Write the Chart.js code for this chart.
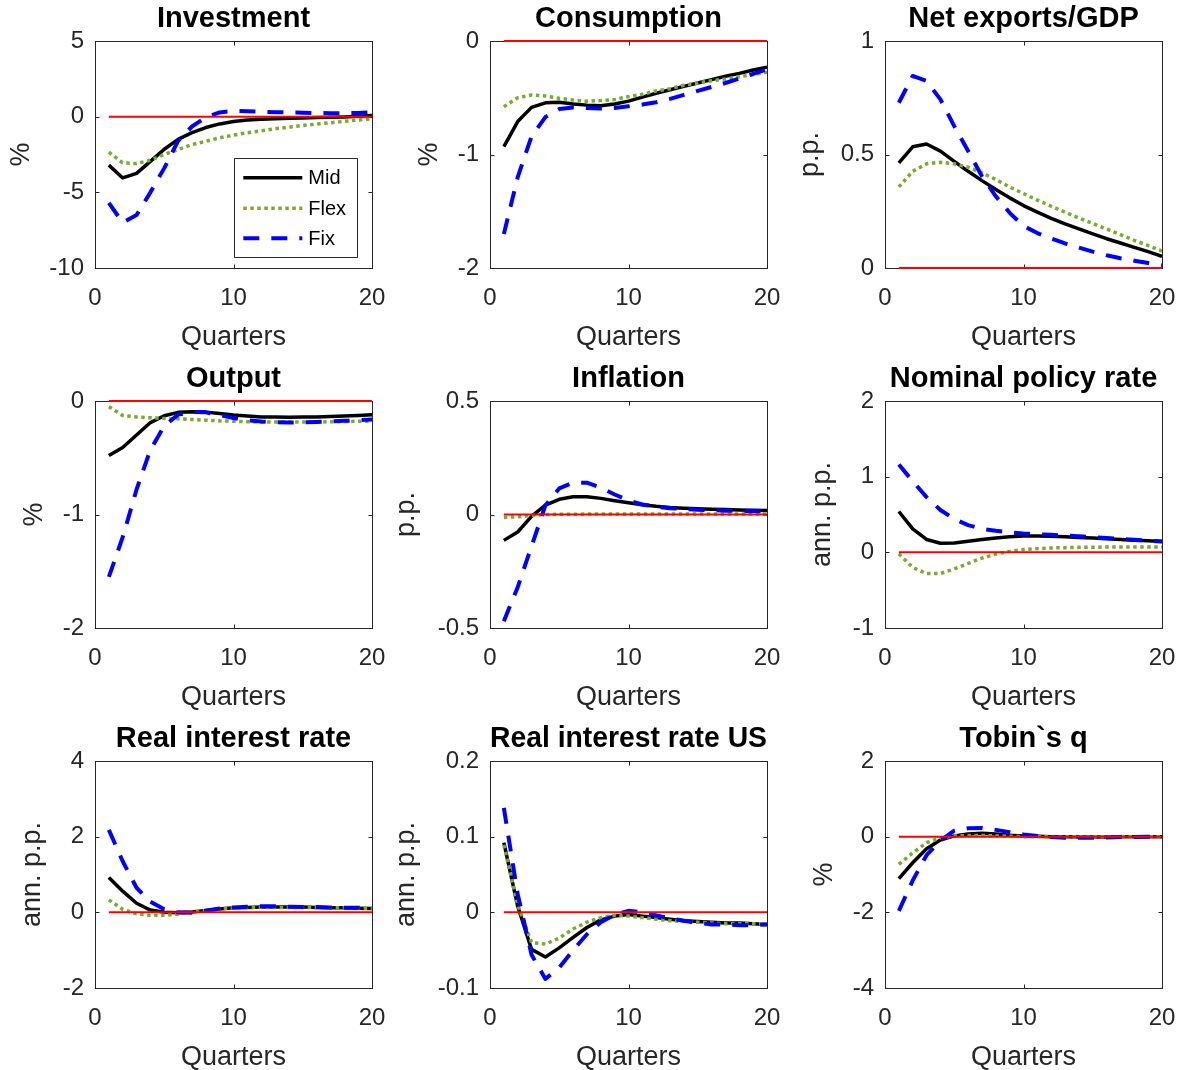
<!DOCTYPE html>
<html>
<head>
<meta charset="utf-8">
<title>Impulse responses</title>
<script src="https://cdn.jsdelivr.net/npm/chart.js@4.4.0/dist/chart.umd.min.js"></script>
<style>
  html, body { margin: 0; padding: 0; background: #fff; overflow: hidden; }
  #wrap { position: relative; width: 1180px; height: 1070px; overflow: hidden; }
  #wrap canvas { position: absolute; }
</style>
</head>
<body>
<div id="wrap"></div>
<script>
// quarters after the shock
const quarters = [1, 2, 3, 4, 5, 6, 7, 8, 9, 10, 11, 12, 13, 14, 15, 16, 17, 18, 19, 20];
const xTicks = [0, 10, 20];
const seriesNames = ['Mid', 'Flex', 'Fix'];

// Investment (%)
const investMid  = [-3.2, -4.05, -3.75, -2.95, -2.15, -1.5, -1.05, -0.72, -0.48, -0.32, -0.22, -0.17, -0.13, -0.1, -0.08, -0.06, -0.04, -0.02, 0.02, 0.08];
const investFlex = [-2.35, -3.05, -3.1, -2.88, -2.5, -2.17, -1.85, -1.62, -1.4, -1.22, -1.06, -0.93, -0.8, -0.69, -0.58, -0.49, -0.4, -0.31, -0.22, -0.13];
const investFix  = [-5.7, -7.0, -6.5, -5.0, -3.4, -1.6, -0.65, -0.05, 0.28, 0.38, 0.36, 0.33, 0.3, 0.28, 0.26, 0.24, 0.23, 0.23, 0.25, 0.28];

// Consumption (%)
const consMid  = [-0.93, -0.71, -0.585, -0.545, -0.54, -0.555, -0.565, -0.57, -0.555, -0.53, -0.495, -0.46, -0.43, -0.4, -0.37, -0.34, -0.31, -0.285, -0.255, -0.23];
const consFlex = [-0.58, -0.5, -0.476, -0.485, -0.505, -0.52, -0.53, -0.525, -0.515, -0.49, -0.47, -0.44, -0.42, -0.39, -0.37, -0.35, -0.335, -0.315, -0.295, -0.275];
const consFix  = [-1.7, -1.2, -0.84, -0.67, -0.6, -0.585, -0.59, -0.595, -0.59, -0.575, -0.56, -0.54, -0.51, -0.475, -0.44, -0.405, -0.37, -0.33, -0.29, -0.25];

// Net exports/GDP (p.p.)
const nxMid  = [0.463, 0.534, 0.546, 0.515, 0.47, 0.426, 0.385, 0.346, 0.309, 0.275, 0.246, 0.219, 0.194, 0.172, 0.15, 0.129, 0.11, 0.091, 0.072, 0.051];
const nxFlex = [0.357, 0.426, 0.459, 0.466, 0.459, 0.444, 0.419, 0.39, 0.357, 0.328, 0.299, 0.272, 0.246, 0.22, 0.196, 0.172, 0.147, 0.122, 0.099, 0.074];
const nxFix  = [0.728, 0.846, 0.824, 0.743, 0.625, 0.515, 0.404, 0.316, 0.243, 0.185, 0.154, 0.13, 0.108, 0.09, 0.072, 0.056, 0.043, 0.032, 0.022, 0.012];

// Output (%)
const outMid  = [-0.48, -0.41, -0.3, -0.19, -0.13, -0.1, -0.095, -0.098, -0.11, -0.124, -0.133, -0.14, -0.142, -0.143, -0.142, -0.14, -0.136, -0.132, -0.127, -0.121];
const outFlex = [-0.05, -0.127, -0.14, -0.148, -0.154, -0.157, -0.163, -0.169, -0.175, -0.178, -0.182, -0.185, -0.186, -0.186, -0.186, -0.185, -0.183, -0.181, -0.179, -0.177];
const outFix  = [-1.55, -1.2, -0.78, -0.43, -0.22, -0.12, -0.095, -0.1, -0.124, -0.15, -0.17, -0.18, -0.187, -0.19, -0.188, -0.185, -0.18, -0.175, -0.17, -0.163];

// Inflation (p.p.)
const inflMid  = [-0.114, -0.077, -0.008, 0.041, 0.067, 0.078, 0.078, 0.071, 0.061, 0.052, 0.043, 0.036, 0.031, 0.028, 0.025, 0.023, 0.022, 0.02, 0.019, 0.018];
const inflFlex = [-0.013, -0.01, -0.004, 0.0, 0.001, 0.001, 0.002, 0.002, 0.002, 0.002, 0.002, 0.002, 0.002, 0.002, 0.002, 0.002, 0.002, 0.002, 0.002, 0.002];
const inflFix  = [-0.47, -0.32, -0.14, 0.04, 0.115, 0.14, 0.14, 0.118, 0.088, 0.062, 0.044, 0.034, 0.028, 0.024, 0.021, 0.019, 0.017, 0.016, 0.015, 0.014];

// Nominal policy rate (ann. p.p.)
const polMid  = [0.54, 0.31, 0.17, 0.12, 0.124, 0.147, 0.17, 0.19, 0.205, 0.215, 0.217, 0.213, 0.205, 0.197, 0.188, 0.179, 0.17, 0.161, 0.152, 0.143];
const polFlex = [-0.02, -0.2, -0.28, -0.28, -0.22, -0.147, -0.076, -0.022, 0.013, 0.036, 0.049, 0.058, 0.062, 0.066, 0.068, 0.07, 0.07, 0.07, 0.07, 0.07];
const polFix  = [1.16, 0.94, 0.73, 0.56, 0.44, 0.36, 0.31, 0.285, 0.265, 0.25, 0.24, 0.232, 0.222, 0.212, 0.2, 0.19, 0.179, 0.167, 0.155, 0.143];

// Real interest rate (ann. p.p.)
const rMid  = [0.92, 0.56, 0.24, 0.06, 0.0, -0.01, 0.01, 0.05, 0.09, 0.12, 0.13, 0.14, 0.14, 0.14, 0.14, 0.13, 0.12, 0.12, 0.11, 0.1];
const rFlex = [0.33, 0.08, -0.04, -0.08, -0.08, -0.05, 0.01, 0.05, 0.09, 0.12, 0.125, 0.13, 0.13, 0.13, 0.13, 0.13, 0.12, 0.12, 0.11, 0.11];
const rFix  = [2.18, 1.35, 0.65, 0.28, 0.08, 0.0, -0.01, 0.04, 0.1, 0.13, 0.15, 0.16, 0.16, 0.15, 0.14, 0.14, 0.13, 0.12, 0.12, 0.11];

// Real interest rate US (ann. p.p.)
const rusMid  = [0.092, 0.008, -0.049, -0.059, -0.047, -0.033, -0.02, -0.01, -0.005, -0.003, -0.005, -0.007, -0.009, -0.011, -0.012, -0.013, -0.014, -0.014, -0.015, -0.016];
const rusFlex = [0.089, 0.01, -0.04, -0.042, -0.034, -0.022, -0.013, -0.007, -0.004, -0.005, -0.007, -0.009, -0.011, -0.012, -0.013, -0.014, -0.015, -0.015, -0.015, -0.015];
const rusFix  = [0.138, 0.024, -0.056, -0.088, -0.073, -0.05, -0.029, -0.013, -0.003, 0.002, 0.0, -0.004, -0.008, -0.011, -0.014, -0.016, -0.016, -0.017, -0.017, -0.016];

// Tobin`s q (%)
const qMid  = [-1.11, -0.69, -0.32, -0.09, 0.02, 0.07, 0.09, 0.07, 0.04, 0.02, 0.01, 0.0, 0.0, -0.01, -0.01, -0.01, 0.0, 0.0, 0.0, 0.0];
const qFlex = [-0.73, -0.43, -0.16, -0.03, 0.02, 0.03, 0.03, 0.02, 0.01, 0.0, 0.0, 0.0, 0.0, 0.0, 0.0, 0.0, 0.0, 0.0, 0.0, 0.0];
const qFix  = [-1.96, -1.16, -0.49, -0.1, 0.16, 0.22, 0.23, 0.18, 0.12, 0.06, 0.02, -0.01, -0.03, -0.03, -0.03, -0.02, -0.01, -0.01, 0.0, 0.0];

const panelTitles = ['Investment', 'Consumption', 'Net exports/GDP', 'Output', 'Inflation',
  'Nominal policy rate', 'Real interest rate', 'Real interest rate US', 'Tobin`s q'];
const yAxisLabels = ['%', '%', 'p.p.', '%', 'p.p.', 'ann. p.p.', 'ann. p.p.', 'ann. p.p.', '%'];
const yTickValues = [
  [-10, -5, 0, 5], [-2, -1, 0], [0, 0.5, 1],
  [-2, -1, 0], [-0.5, 0, 0.5], [-1, 0, 1, 2],
  [-2, 0, 2, 4], [-0.1, 0, 0.1, 0.2], [-4, -2, 0, 2]
];
const panelSeries = [
  [investMid, investFlex, investFix], [consMid, consFlex, consFix], [nxMid, nxFlex, nxFix],
  [outMid, outFlex, outFix], [inflMid, inflFlex, inflFix], [polMid, polFlex, polFix],
  [rMid, rFlex, rFix], [rusMid, rusFlex, rusFix], [qMid, qFlex, qFix]
];

// ---- styling / layout ----
const FONT = '"Liberation Sans", Arial, Helvetica, sans-serif';
const AXIS_COLOR = '#262626';
const W = 395, H = 360;
// per panel distance of the rotated y label from the canvas edge
const yLabelPad = [5.8, 18.8, 4.4, 18.8, -4.6, 16.4, 16.4, -4.6, 18.8];

const lineStyle = {
  Mid:  { color: '#000000', width: 3.5, dash: [] },
  Flex: { color: '#77AC30', width: 3.5, dash: [3.5, 3.5] },
  Fix:  { color: '#0000FF', width: 4,   dash: [16, 12] }
};
const drawOrder = { Mid: 3, Flex: 2, Fix: 1 };

Chart.defaults.font.family = FONT;
Chart.defaults.color = AXIS_COLOR;

// MATLAB style box with inward ticks on all four sides
const boxPlugin = {
  id: 'matlabBox',
  beforeDatasetsDraw(chart) {
    const { ctx, chartArea: a, scales: { x, y } } = chart;
    const l = Math.round(a.left) + 0.5, r = Math.round(a.right) + 0.5;
    const t = Math.round(a.top) + 0.5, b = Math.round(a.bottom) + 0.5;
    const tl = 4;
    ctx.save();
    ctx.strokeStyle = AXIS_COLOR;
    ctx.lineWidth = 1;
    ctx.strokeRect(l, t, r - l, b - t);
    ctx.beginPath();
    x.ticks.forEach(tk => {
      const px = Math.round(x.getPixelForValue(tk.value)) + 0.5;
      ctx.moveTo(px, b); ctx.lineTo(px, b - tl);
      ctx.moveTo(px, t); ctx.lineTo(px, t + tl);
    });
    y.ticks.forEach(tk => {
      const py = Math.round(y.getPixelForValue(tk.value)) + 0.5;
      ctx.moveTo(l, py); ctx.lineTo(l + tl, py);
      ctx.moveTo(r, py); ctx.lineTo(r - tl, py);
    });
    ctx.stroke();
    ctx.restore();
  }
};

// boxed legend in the lower right corner of the first panel
const legendPlugin = {
  id: 'boxLegend',
  afterDatasetsDraw(chart) {
    const { ctx, chartArea: a } = chart;
    const bw = 123.4, bh = 99.4;
    const bx = a.right - 14.3 - bw, by = a.bottom - 10.3 - bh;
    ctx.save();
    ctx.fillStyle = '#fff';
    ctx.fillRect(bx, by, bw, bh);
    ctx.strokeStyle = AXIS_COLOR;
    ctx.lineWidth = 1;
    ctx.strokeRect(Math.round(bx) + 0.5, Math.round(by) + 0.5, Math.round(bw), Math.round(bh));
    ctx.font = '20px ' + FONT;
    ctx.textBaseline = 'middle';
    ctx.textAlign = 'left';
    const rows = [19.4, 50, 80];
    seriesNames.forEach((name, i) => {
      const st = lineStyle[name];
      const yy = by + rows[i];
      ctx.beginPath();
      ctx.strokeStyle = st.color;
      ctx.lineWidth = st.width;
      ctx.setLineDash(st.dash);
      ctx.moveTo(bx + 9, yy);
      ctx.lineTo(bx + 68, yy);
      ctx.stroke();
      ctx.setLineDash([]);
      ctx.fillStyle = '#000';
      ctx.fillText(name, bx + 74, yy + 1);
    });
    ctx.restore();
  }
};

function fmt(v) {
  return String(Number(v.toFixed(3)));
}

const wrap = document.getElementById('wrap');

panelTitles.forEach((title, i) => {
  const canvas = document.createElement('canvas');
  canvas.width = W;
  canvas.height = H;
  canvas.style.width = W + 'px';
  canvas.style.height = H + 'px';
  canvas.style.left = (i % 3) * W + 'px';
  canvas.style.top = Math.floor(i / 3) * H + 'px';
  wrap.appendChild(canvas);

  const yt = yTickValues[i];
  const datasets = [{
    label: 'zero',
    data: [{ x: quarters[0], y: 0 }, { x: quarters[quarters.length - 1], y: 0 }],
    borderColor: '#FF0000',
    borderWidth: 2,
    pointRadius: 0,
    clip: 4,
    order: 0
  }];
  seriesNames.forEach((name, k) => {
    const st = lineStyle[name];
    datasets.push({
      label: name,
      data: quarters.map((q, j) => ({ x: q, y: panelSeries[i][k][j] })),
      borderColor: st.color,
      borderWidth: st.width,
      borderDash: st.dash,
      borderCapStyle: 'butt',
      borderJoinStyle: 'round',
      pointRadius: 0,
      tension: 0,
      order: drawOrder[name]
    });
  });

  new Chart(canvas, {
    type: 'line',
    data: { datasets },
    plugins: i === 0 ? [boxPlugin, legendPlugin] : [boxPlugin],
    options: {
      responsive: false,
      animation: false,
      events: [],
      layout: { padding: { left: 0, right: 23, top: 0, bottom: 0 } },
      plugins: {
        legend: { display: false },
        tooltip: { enabled: false },
        title: {
          display: true,
          text: title,
          fullSize: false,
          color: '#000',
          font: { size: 29, weight: 'bold', lineHeight: 1.2 },
          padding: { top: 2, bottom: 4.2 }
        }
      },
      scales: {
        x: {
          type: 'linear',
          min: xTicks[0],
          max: xTicks[xTicks.length - 1],
          afterBuildTicks: s => { s.ticks = xTicks.map(v => ({ value: v })); },
          afterFit: s => { s.height = 92; s.paddingLeft = 0; s.paddingRight = 0; },
          grid: { display: false, drawTicks: false },
          border: { display: false },
          ticks: { padding: 16, font: { size: 24 }, color: AXIS_COLOR, maxRotation: 0, callback: v => fmt(v) },
          title: { display: true, text: 'Quarters', color: AXIS_COLOR, font: { size: 27, lineHeight: 1.2 }, padding: { top: 0, bottom: 6.5 } }
        },
        y: {
          type: 'linear',
          min: yt[0],
          max: yt[yt.length - 1],
          afterBuildTicks: s => { s.ticks = yt.map(v => ({ value: v })); },
          afterFit: s => { s.width = 95; s.paddingTop = 0; s.paddingBottom = 0; },
          grid: { display: false, drawTicks: false },
          border: { display: false },
          ticks: { padding: 11, font: { size: 24 }, color: AXIS_COLOR, callback: v => fmt(v) },
          title: { display: true, text: yAxisLabels[i], color: AXIS_COLOR, font: { size: 27, lineHeight: 1.2 }, padding: { top: yLabelPad[i], bottom: 0 } }
        }
      }
    }
  });
});
</script>
</body>
</html>
